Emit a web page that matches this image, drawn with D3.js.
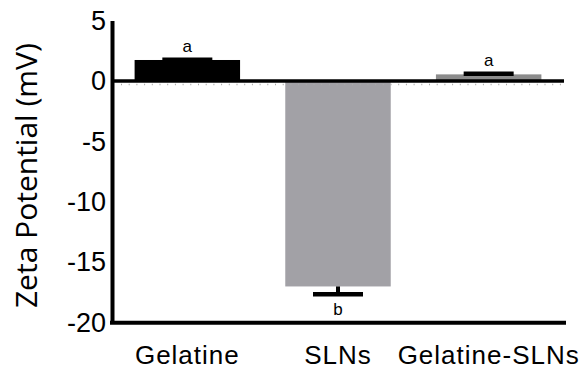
<!DOCTYPE html>
<html>
<head>
<meta charset="utf-8">
<script src="https://cdn.jsdelivr.net/npm/d3@7"></script>
<style>
  html, body { margin: 0; padding: 0; background: #fff; }
  svg { display: block; }
</style>
</head>
<body>
<svg id="chart" width="582" height="369"></svg>
<script>
// Zeta potential of the three formulations (mean ± SD, mV)
const categories = ["Gelatine", "SLNs", "Gelatine-SLNs"];
const means = [1.74, -17.0, 0.55];
const sds = [0.03, 0.65, 0.06];
const groupLetters = ["a", "b", "a"];
const barColors = ["#000000", "#a2a1a6", "#8c8c8c"];
const yTicks = [5, 0, -5, -10, -15, -20];

const svg = d3.select("#chart");
const plotLeft = 112, plotRight = 564, plotTop = 20.6, plotBottom = 322.7;

const x = d3.scaleBand()
  .domain(categories)
  .range([plotLeft, plotRight])
  .paddingInner(0.3)
  .paddingOuter(0.15);

const y = d3.scaleLinear()
  .domain([-20, 5])
  .range([plotBottom, plotTop]);

const labelFont = "'Liberation Sans', Arial, sans-serif";

// Bars from zero
svg.append("g")
  .selectAll("rect")
  .data(categories)
  .join("rect")
  .attr("x", d => x(d))
  .attr("width", x.bandwidth())
  .attr("y", (d, i) => y(Math.max(0, means[i])))
  .attr("height", (d, i) => Math.abs(y(means[i]) - y(0)))
  .attr("fill", (d, i) => barColors[i]);

// One-sided error bars (away from zero)
const capHalf = 25;
const eb = svg.append("g").attr("stroke", "#000");
categories.forEach((c, i) => {
  const cx = x(c) + x.bandwidth() / 2;
  const end = means[i] + Math.sign(means[i]) * sds[i];
  eb.append("line")
    .attr("x1", cx).attr("x2", cx)
    .attr("y1", y(means[i])).attr("y2", y(end))
    .attr("stroke-width", 4);
  eb.append("line")
    .attr("x1", cx - capHalf).attr("x2", cx + capHalf)
    .attr("y1", y(end)).attr("y2", y(end))
    .attr("stroke-width", 4.5);
});

// Significance letters
svg.append("g")
  .selectAll("text")
  .data(categories)
  .join("text")
  .attr("x", d => x(d) + x.bandwidth() / 2)
  .attr("y", (d, i) => {
    const end = means[i] + Math.sign(means[i]) * sds[i];
    return means[i] >= 0 ? y(end) - 8 : y(end) + 21;
  })
  .attr("text-anchor", "middle")
  .attr("font-family", labelFont)
  .attr("font-size", 17)
  .attr("fill", "#000")
  .text((d, i) => groupLetters[i]);

// Faint minor marks under the zero line
svg.append("line")
  .attr("x1", plotLeft + 9).attr("x2", plotRight)
  .attr("y1", y(0) + 3.5).attr("y2", y(0) + 3.5)
  .attr("stroke", "#aaaaaa")
  .attr("stroke-width", 1.5)
  .attr("stroke-dasharray", "1 6.7");

// Zero line
svg.append("line")
  .attr("x1", plotLeft).attr("x2", plotRight)
  .attr("y1", y(0)).attr("y2", y(0))
  .attr("stroke", "#000")
  .attr("stroke-width", 3.5);

// Y axis
const yAxis = svg.append("g")
  .attr("transform", `translate(${plotLeft},0)`)
  .call(d3.axisLeft(y).tickValues(yTicks).tickFormat(d => String(d)).tickSize(0).tickSizeOuter(0).tickPadding(6));
yAxis.select(".domain").attr("stroke", "#000").attr("stroke-width", 4);
yAxis.selectAll("text")
  .attr("font-family", labelFont)
  .attr("font-size", 27)
  .attr("fill", "#000");

// X axis
const xAxis = svg.append("g")
  .attr("transform", `translate(0,${plotBottom})`)
  .call(d3.axisBottom(x).tickSize(0).tickSizeOuter(0).tickPadding(23));
xAxis.select(".domain")
  .attr("stroke", "#000").attr("stroke-width", 4)
  .attr("d", `M${plotLeft - 2},0H${plotRight + 2}`);
xAxis.selectAll("text")
  .attr("font-family", labelFont)
  .attr("font-size", 26)
  .attr("letter-spacing", 1)
  .attr("fill", "#000");

// Y axis title
svg.append("text")
  .attr("transform", `translate(37,${(plotTop + plotBottom) / 2 + 4}) rotate(-90)`)
  .attr("text-anchor", "middle")
  .attr("font-family", "'Open Sans', sans-serif")
  .attr("font-size", 30)
  .attr("fill", "#000")
  .text("Zeta Potential (mV)");
</script>
</body>
</html>
